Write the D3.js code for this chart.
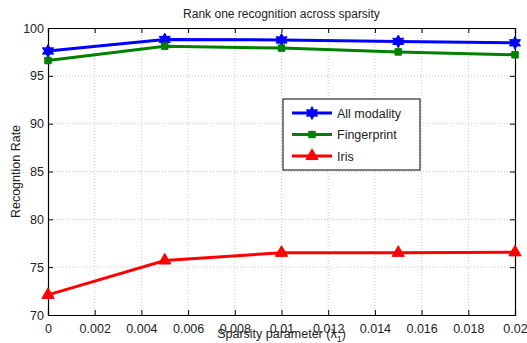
<!DOCTYPE html>
<html>
<head>
<meta charset="utf-8">
<script src="https://cdn.jsdelivr.net/npm/d3@7"></script>
<style>
  body { margin: 0; background: #fff; }
  text { font-family: "Liberation Sans", Arial, sans-serif; fill: #222; }
</style>
</head>
<body>
<script>
const width = 527;
const height = 343;

const lambdas = [0, 0.005, 0.01, 0.015, 0.02];
const allModality = [97.6, 98.8, 98.75, 98.6, 98.45];
const fingerprint = [96.6, 98.1, 97.9, 97.5, 97.2];
const iris = [72.1, 75.7, 76.5, 76.5, 76.55];
const xTicks = [0, 0.002, 0.004, 0.006, 0.008, 0.01, 0.012, 0.014, 0.016, 0.018, 0.02];
const yTicks = [70, 75, 80, 85, 90, 95, 100];

const series = [
  { name: "All modality", values: allModality, color: "#0000ff", marker: "star" },
  { name: "Fingerprint", values: fingerprint, color: "#008000", marker: "square" },
  { name: "Iris", values: iris, color: "#ff0000", marker: "triangle" }
];

const margin = { top: 28, right: 12, bottom: 28, left: 48 };

const svg = d3.select("body")
  .append("svg")
  .attr("width", width)
  .attr("height", height);

const x = d3.scaleLinear().domain([0, 0.02]).range([margin.left, width - margin.right]);
const y = d3.scaleLinear().domain([70, 100]).range([height - margin.bottom, margin.top]);

// grid
const grid = svg.append("g")
  .attr("stroke", "#bbb")
  .attr("stroke-width", 0.8)
  .attr("stroke-dasharray", "1,2");
grid.selectAll(".gx")
  .data(xTicks.slice(1, -1))
  .enter()
  .append("line")
  .attr("x1", d => x(d)).attr("x2", d => x(d))
  .attr("y1", y(70)).attr("y2", y(100));
grid.selectAll(".gy")
  .data(yTicks.slice(1, -1))
  .enter()
  .append("line")
  .attr("y1", d => y(d)).attr("y2", d => y(d))
  .attr("x1", x(0)).attr("x2", x(0.02));

// axes with inward ticks
const fmtX = d => d === 0 ? "0" : d3.format("")(+d.toFixed(3));
svg.append("g")
  .attr("transform", `translate(0,${y(70)})`)
  .call(d3.axisBottom(x).tickValues(xTicks).tickSize(-5).tickPadding(9).tickFormat(fmtX))
  .call(g => g.selectAll("text").attr("font-size", 12.5).attr("fill", "#222"));
svg.append("g")
  .attr("transform", `translate(0,${y(100)})`)
  .call(d3.axisTop(x).tickValues(xTicks).tickSize(-5).tickFormat(""));
svg.append("g")
  .attr("transform", `translate(${x(0)},0)`)
  .call(d3.axisLeft(y).tickValues(yTicks).tickSize(-5).tickPadding(4))
  .call(g => g.selectAll("text").attr("font-size", 12.5).attr("fill", "#222"));
svg.append("g")
  .attr("transform", `translate(${x(0.02)},0)`)
  .call(d3.axisRight(y).tickValues(yTicks).tickSize(-5).tickFormat(""));
svg.selectAll(".domain").attr("stroke", "#000").attr("stroke-width", 1.2);
svg.selectAll(".tick line").attr("stroke", "#000");

// six-pointed star like MATLAB's hexagram marker
const hexagram = {
  draw(context, size) {
    const r = Math.sqrt(size / 2.2);
    const ri = r * 0.55;
    for (let i = 0; i < 12; i++) {
      const a = Math.PI * i / 6 - Math.PI / 2;
      const rr = i % 2 === 0 ? r : ri;
      if (i === 0) context.moveTo(rr * Math.cos(a), rr * Math.sin(a));
      else context.lineTo(rr * Math.cos(a), rr * Math.sin(a));
    }
    context.closePath();
  }
};

const symbolFor = {
  star: d3.symbol().type(hexagram).size(90),
  square: d3.symbol().type(d3.symbolSquare).size(42),
  triangle: d3.symbol().type(d3.symbolTriangle).size(65)
};

// lines
const line = d3.line()
  .x((d, i) => x(lambdas[i]))
  .y(d => y(d));

series.forEach(s => {
  svg.append("path")
    .datum(s.values)
    .attr("fill", "none")
    .attr("stroke", s.color)
    .attr("stroke-width", 3)
    .attr("d", line);
  svg.append("g")
    .selectAll("path")
    .data(s.values)
    .enter()
    .append("path")
    .attr("transform", (d, i) => `translate(${x(lambdas[i])},${y(d)})`)
    .attr("d", symbolFor[s.marker])
    .attr("fill", s.color)
    .attr("stroke", s.color)
    .attr("stroke-width", 1);
});

// legend
const legend = svg.append("g").attr("transform", "translate(283,99)");
legend.append("rect")
  .attr("width", 137)
  .attr("height", 71)
  .attr("fill", "#fff")
  .attr("stroke", "#000")
  .attr("stroke-width", 1);
series.forEach((s, i) => {
  const ly = 14 + i * 21.5;
  legend.append("line")
    .attr("x1", 9).attr("x2", 49)
    .attr("y1", ly).attr("y2", ly)
    .attr("stroke", s.color)
    .attr("stroke-width", 3);
  legend.append("path")
    .attr("transform", `translate(29,${ly})`)
    .attr("d", symbolFor[s.marker])
    .attr("fill", s.color)
    .attr("stroke", s.color)
    .attr("stroke-width", 1);
  legend.append("text")
    .attr("x", 54)
    .attr("y", ly + 4.5)
    .attr("font-size", 12.5)
    .text(s.name);
});

// titles
svg.append("text")
  .attr("x", (x(0) + x(0.02)) / 2)
  .attr("y", 18)
  .attr("text-anchor", "middle")
  .attr("font-size", 12)
  .text("Rank one recognition across sparsity");

const xl = svg.append("text")
  .attr("x", (x(0) + x(0.02)) / 2)
  .attr("y", 338)
  .attr("text-anchor", "middle")
  .attr("font-size", 12.5)
  .text("Sparsity parameter (λ");
xl.append("tspan").attr("font-size", 9).attr("dy", 4).text("1");
xl.append("tspan").attr("dy", -4).text(")");

svg.append("text")
  .attr("transform", `translate(20,${(y(70) + y(100)) / 2}) rotate(-90)`)
  .attr("text-anchor", "middle")
  .attr("font-size", 12.5)
  .text("Recogntion Rate");
</script>
</body>
</html>
